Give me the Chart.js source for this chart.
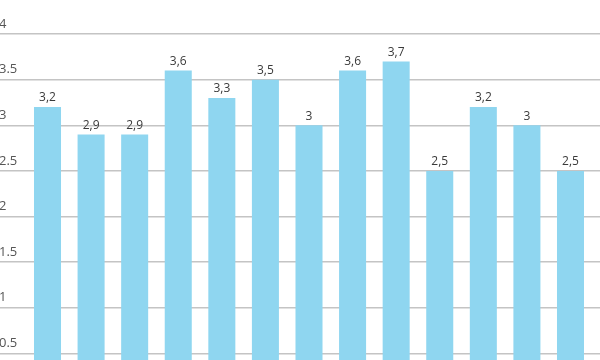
<!DOCTYPE html>
<html>
<head>
<meta charset="utf-8">
<script src="https://cdn.jsdelivr.net/npm/chart.js@4"></script>
<style>
  html, body { margin: 0; padding: 0; background: #ffffff; overflow: hidden; }
  #wrap { width: 600px; height: 420px; position: relative; }
</style>
</head>
<body>
<div id="wrap"><canvas id="c"></canvas></div>
<script>
const categories = ['1', '2', '3', '4', '5', '6', '7', '8', '9', '10', '11', '12', '13'];
const values = [3.2, 2.9, 2.9, 3.6, 3.3, 3.5, 3.0, 3.6, 3.7, 2.5, 3.2, 3.0, 2.5];
const yTicks = [0, 0.5, 1, 1.5, 2, 2.5, 3, 3.5, 4];

const barLabels = {
  id: 'barLabels',
  afterDatasetsDraw(chart) {
    const ctx = chart.ctx;
    const meta = chart.getDatasetMeta(0);
    ctx.save();
    ctx.font = '12px "Open Sans", sans-serif';
    ctx.fillStyle = '#3a3a3a';
    ctx.textAlign = 'center';
    ctx.textBaseline = 'bottom';
    meta.data.forEach((bar, i) => {
      const txt = String(values[i]).replace('.', ',');
      ctx.fillText(txt, bar.x, bar.y - 3);
    });
    ctx.restore();
  }
};

new Chart(document.getElementById('c'), {
  type: 'bar',
  data: {
    labels: categories,
    datasets: [{
      data: values.map((v, i) => ({ x: i, y: v })),
      backgroundColor: '#8FD6F0',
      borderWidth: 0,
      barPercentage: 0.62,
      categoryPercentage: 1.0
    }]
  },
  options: {
    responsive: true,
    maintainAspectRatio: false,
    animation: false,
    layout: { padding: { top: 34, bottom: 21, left: 0, right: 0 } },
    plugins: { legend: { display: false }, tooltip: { enabled: false } },
    scales: {
      x: {
        type: 'linear',
        min: -1.09,
        max: 12.677,
        offset: false,
        grid: { offset: false },
        display: false
      },
      y: {
        min: 0,
        max: 4,
        afterBuildTicks: s => { s.ticks = yTicks.map(v => ({ value: v })); },
        afterFit: s => { s.paddingTop = 0; s.paddingBottom = 0; s.width = 0; },
        border: { display: false },
        grid: { color: '#c4c4c4', lineWidth: 1.5, drawTicks: false },
        ticks: {
          mirror: true,
          padding: -1,
          labelOffset: -10,
          color: '#555555',
          font: { family: '"Open Sans", sans-serif', size: 13 },
          callback: v => String(v)
        }
      }
    }
  },
  plugins: [barLabels]
});
</script>
</body>
</html>
